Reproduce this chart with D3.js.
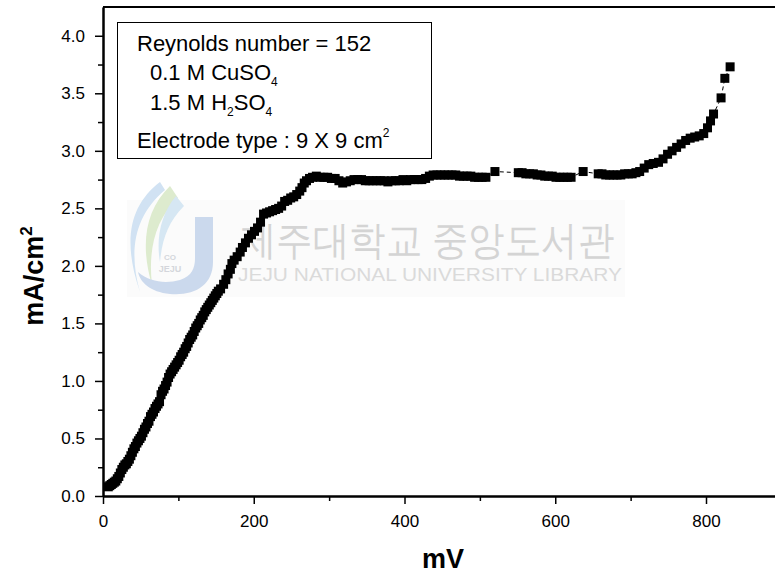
<!DOCTYPE html>
<html>
<head>
<meta charset="utf-8">
<script src="https://cdn.jsdelivr.net/npm/d3@7"></script>
<style>
  html, body { margin: 0; padding: 0; background: #fff; }
  svg { display: block; }
  text { font-family: "Liberation Sans", Arial, sans-serif; }
</style>
</head>
<body>
<svg id="chart" width="775" height="574"></svg>
<script>
// Potential (mV) and current density (mA/cm²) of the polarization curve
const potential = [
  7, 9, 11, 13, 15, 17, 19, 21, 23, 25, 27, 29, 31, 33, 35, 37, 39, 41, 43, 45,
  47, 49, 51, 53, 55, 57, 59, 61, 63, 65, 67, 69, 71, 73, 75, 77, 79, 81, 83, 85,
  87, 89, 91, 93, 95, 97, 99, 101, 103, 105, 107, 109, 111, 113, 115, 117, 119, 121, 123, 125,
  127, 129, 131, 133, 135, 137, 139, 141, 143, 145, 147, 149, 151, 153, 156, 160, 163, 166, 169, 171,
  174, 178, 182, 185, 189, 193, 197, 201, 205, 209, 213, 217, 221, 225, 229, 233, 237, 241, 245, 249,
  253, 257, 261, 264, 267, 270, 274, 278, 283, 288, 293, 298, 303, 308, 313, 318, 323, 328, 333, 338,
  343, 348, 353, 358, 363, 368, 373, 378, 383, 388, 393, 398, 403, 408, 413, 418, 423, 428, 433, 438,
  443, 448, 453, 458, 463, 468, 473, 478, 483, 488, 493, 498, 503, 508, 520, 551, 556, 561, 566, 571,
  576, 581, 586, 591, 596, 601, 606, 611, 616, 621, 637, 657, 662, 667, 672, 677, 682, 687, 692, 697,
  702, 707, 712, 718, 724, 730, 737, 743, 749, 755, 761, 767, 773, 779, 785, 791, 797, 802, 806, 810,
  820, 825, 832
];
const currentDensity = [
  0.08, 0.09, 0.10, 0.11, 0.12, 0.13, 0.15, 0.17, 0.20, 0.23, 0.25, 0.27, 0.28, 0.30, 0.32, 0.35, 0.38, 0.41, 0.43, 0.46,
  0.48, 0.50, 0.52, 0.55, 0.58, 0.60, 0.63, 0.65, 0.69, 0.71, 0.73, 0.76, 0.78, 0.80, 0.82, 0.88, 0.91, 0.93, 0.96, 0.99,
  1.03, 1.06, 1.08, 1.10, 1.12, 1.14, 1.16, 1.18, 1.21, 1.23, 1.25, 1.28, 1.30, 1.33, 1.36, 1.38, 1.40, 1.43, 1.46, 1.48,
  1.50, 1.53, 1.55, 1.57, 1.60, 1.62, 1.64, 1.66, 1.68, 1.70, 1.72, 1.74, 1.76, 1.78, 1.80, 1.84, 1.88, 1.93, 1.97, 2.02,
  2.05, 2.08, 2.12, 2.16, 2.20, 2.24, 2.27, 2.30, 2.33, 2.38, 2.45, 2.46, 2.47, 2.48, 2.49, 2.50, 2.52, 2.56, 2.57, 2.59,
  2.60, 2.62, 2.65, 2.68, 2.72, 2.74, 2.76, 2.77, 2.78, 2.77, 2.77, 2.77, 2.76, 2.76, 2.74, 2.72, 2.73, 2.74, 2.75, 2.75,
  2.75, 2.74, 2.74, 2.74, 2.74, 2.74, 2.74, 2.73, 2.74, 2.74, 2.74, 2.75, 2.74, 2.75, 2.75, 2.75, 2.75, 2.76, 2.78, 2.79,
  2.79, 2.79, 2.79, 2.79, 2.79, 2.79, 2.78, 2.78, 2.78, 2.78, 2.77, 2.77, 2.77, 2.77, 2.82, 2.81, 2.81, 2.80, 2.80, 2.80,
  2.79, 2.79, 2.78, 2.78, 2.78, 2.77, 2.77, 2.77, 2.77, 2.77, 2.82, 2.80, 2.80, 2.79, 2.79, 2.79, 2.79, 2.79, 2.80, 2.80,
  2.80, 2.81, 2.82, 2.85, 2.88, 2.89, 2.90, 2.93, 2.97, 3.00, 3.03, 3.06, 3.09, 3.11, 3.12, 3.13, 3.15, 3.20, 3.26, 3.32,
  3.46, 3.63, 3.73
];

const xMajorTicks = [0, 200, 400, 600, 800];
const xMinorTicks = [100, 300, 500, 700];
const yMajorTicks = [0.0, 0.5, 1.0, 1.5, 2.0, 2.5, 3.0, 3.5, 4.0];
const yMinorTicks = [0.25, 0.75, 1.25, 1.75, 2.25, 2.75, 3.25, 3.75];

const xTitle = "mV";
const annotationLines = ["Reynolds number = 152", "0.1 M CuSO", "1.5 M H", "Electrode type : 9 X 9 cm"];

const svg = d3.select("#chart");
const margin = { left: 103, top: 7, bottom: 496 };

const x = d3.scaleLinear().domain([0, 900]).range([margin.left, margin.left + 900 * 0.75375]);
const y = d3.scaleLinear().domain([0, 4.25]).range([margin.bottom, margin.top]);

// ---- faint library watermark behind the data ----
const wm = svg.append("g").attr("class", "watermark").attr("opacity", 0.85);
wm.append("rect").attr("x", 127).attr("y", 200).attr("width", 498).attr("height", 97)
  .attr("fill", "#fbfbfb");
// logo swooshes
wm.append("path").attr("d", "M160,182 C130,205 122,240 140,292 C128,250 135,215 165,190 Z")
  .attr("fill", "#c9def1");
wm.append("path").attr("d", "M170,186 C145,210 140,245 152,285 C148,250 155,220 178,198 Z")
  .attr("fill", "#d8e8c6");
wm.append("path").attr("d", "M176,196 C160,215 156,240 160,262 C162,240 168,222 184,206 Z")
  .attr("fill", "#cfe3f2");
// "J" letterform
wm.append("path").attr("d", "M195,217 L213,217 L213,262 C213,285 195,296 170,294 C150,292 140,282 138,272 C150,282 165,284 180,280 C192,276 195,268 195,258 Z")
  .attr("fill", "#c3d3ea");
wm.append("text").attr("x", 170).attr("y", 260).attr("text-anchor", "middle")
  .attr("font-size", 8).attr("fill", "#cdd0d6").attr("font-weight", "bold").text("CO");
wm.append("text").attr("x", 170).attr("y", 272).attr("text-anchor", "middle")
  .attr("font-size", 9).attr("fill", "#cdd0d6").attr("font-weight", "bold").text("JEJU");
wm.append("text").attr("x", 240).attr("y", 254)
  .attr("font-family", "'Noto Sans CJK KR', sans-serif")
  .attr("font-size", 40).attr("fill", "#cdcdcd")
  .attr("textLength", 374).attr("lengthAdjust", "spacingAndGlyphs")
  .text("제주대학교 중앙도서관");
wm.append("text").attr("x", 238).attr("y", 281)
  .attr("font-size", 19).attr("fill", "#d4d4d4")
  .attr("textLength", 384).attr("lengthAdjust", "spacingAndGlyphs")
  .text("JEJU NATIONAL UNIVERSITY  LIBRARY");

// ---- axes ----
const axisStyle = g => {
  g.selectAll(".domain").attr("stroke", "#000").attr("stroke-width", 2);
  g.selectAll(".tick line").attr("stroke", "#000").attr("stroke-width", 1.5);
  g.selectAll(".tick text").attr("fill", "#000").attr("font-size", 17)
    .attr("font-family", "'Liberation Sans', Arial, sans-serif");
};

svg.append("g").attr("transform", `translate(0,${margin.bottom})`)
  .call(d3.axisBottom(x).tickValues(xMinorTicks).tickSize(5).tickSizeOuter(0).tickFormat(""))
  .call(axisStyle);
svg.append("g").attr("transform", `translate(0,${margin.bottom})`)
  .call(d3.axisBottom(x).tickValues(xMajorTicks).tickSize(8).tickSizeOuter(0).tickPadding(11).tickFormat(d3.format("d")))
  .call(axisStyle);

svg.append("g").attr("transform", `translate(${margin.left},0)`)
  .call(d3.axisLeft(y).tickValues(yMinorTicks).tickSize(5).tickSizeOuter(0).tickFormat(""))
  .call(axisStyle);
svg.append("g").attr("transform", `translate(${margin.left},0)`)
  .call(d3.axisLeft(y).tickValues(yMajorTicks).tickSize(8).tickSizeOuter(0).tickPadding(10).tickFormat(d3.format(".1f")))
  .call(axisStyle);

// top frame line
svg.append("line").attr("x1", margin.left).attr("x2", 775)
  .attr("y1", y(4.25)).attr("y2", y(4.25))
  .attr("stroke", "#000").attr("stroke-width", 2);

// ---- axis titles ----
svg.append("text").attr("x", 443).attr("y", 568).attr("text-anchor", "middle")
  .attr("font-size", 27).attr("font-weight", "bold").text(xTitle);

const yt = svg.append("text").attr("transform", "translate(43,276) rotate(-90)")
  .attr("text-anchor", "middle").attr("font-size", 27).attr("font-weight", "bold");
yt.append("tspan").text("mA/cm");
yt.append("tspan").attr("font-size", 17).attr("dy", -11).text("2");

// ---- data: thin connecting line and square markers ----
const pts = potential.map((v, i) => [v, currentDensity[i]]);
svg.append("path").datum(pts)
  .attr("d", d3.line().x(d => x(d[0])).y(d => y(d[1])))
  .attr("fill", "none").attr("stroke", "#000").attr("stroke-width", 1)
  .attr("stroke-dasharray", "4,3");

const ms = 9;
svg.append("g").selectAll("rect").data(pts).join("rect")
  .attr("x", d => x(d[0]) - ms / 2).attr("y", d => y(d[1]) - ms / 2)
  .attr("width", ms).attr("height", ms).attr("fill", "#000");

// ---- annotation box ----
svg.append("rect").attr("x", 117.5).attr("y", 22.5).attr("width", 314).attr("height", 136)
  .attr("fill", "#fff").attr("stroke", "#000").attr("stroke-width", 1);

const ann = svg.append("g").attr("font-size", 22).attr("fill", "#000");
ann.append("text").attr("x", 137).attr("y", 51).text(annotationLines[0]);
const l2 = ann.append("text").attr("x", 150).attr("y", 80);
l2.append("tspan").text(annotationLines[1]);
l2.append("tspan").attr("font-size", 12).attr("dy", 6).text("4");
const l3 = ann.append("text").attr("x", 150).attr("y", 110);
l3.append("tspan").text(annotationLines[2]);
l3.append("tspan").attr("font-size", 12).attr("dy", 6).text("2");
l3.append("tspan").attr("dy", -6).text("SO");
l3.append("tspan").attr("font-size", 12).attr("dy", 6).text("4");
const l4 = ann.append("text").attr("x", 137).attr("y", 148);
l4.append("tspan").text(annotationLines[3]);
l4.append("tspan").attr("font-size", 12).attr("dy", -11).text("2");
</script>
</body>
</html>
